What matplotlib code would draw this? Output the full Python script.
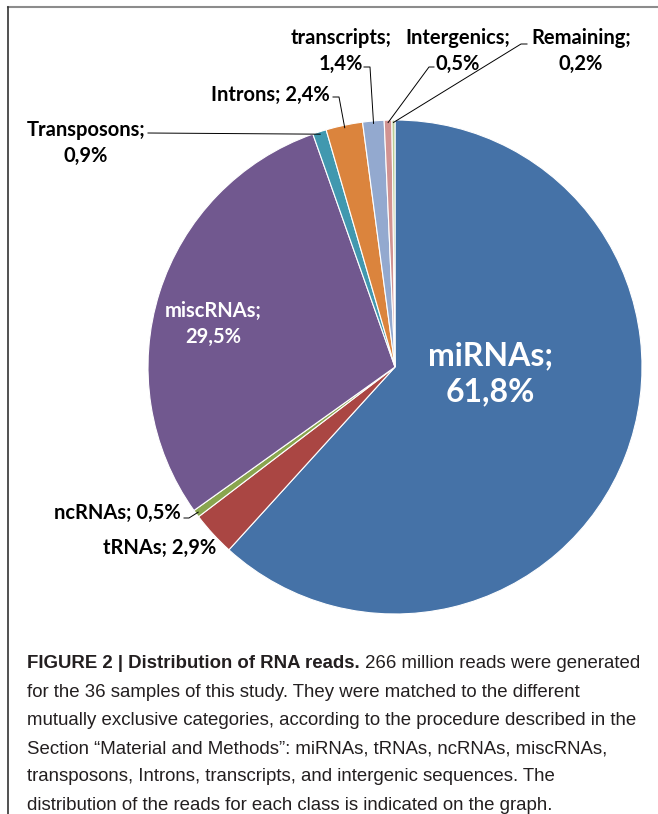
import matplotlib
matplotlib.use("Agg")
import matplotlib.pyplot as plt
from matplotlib.lines import Line2D
import numpy as np

# dados
categorias = ["miRNAs", "tRNAs", "ncRNAs", "miscRNAs", "Transposons",
              "Introns", "transcripts", "Intergenics", "Remaining"]
valores = [61.8, 2.9, 0.5, 29.5, 0.9, 2.4, 1.4, 0.5, 0.2]
rotulos = ["61,8%", "2,9%", "0,5%", "29,5%", "0,9%", "2,4%", "1,4%", "0,5%", "0,2%"]
cores = ["#4572A7", "#AA4643", "#89A54E", "#71588F", "#4198AF",
         "#DB843D", "#93A9CF", "#D19392", "#B9CD96"]

legenda = [
    ("FIGURE 2 | Distribution of RNA reads.",
     " 266 million reads were generated"),
    ("", "for the 36 samples of this study. They were matched to the different"),
    ("", "mutually exclusive categories, according to the procedure described in the"),
    ("", "Section \u201cMaterial and Methods\u201d: miRNAs, tRNAs, ncRNAs, miscRNAs,"),
    ("", "transposons, Introns, transcripts, and intergenic sequences. The"),
    ("", "distribution of the reads for each class is indicated on the graph."),
]

W, H = 658, 814
CX, CY, R = 395, 367, 247

fig = plt.figure(figsize=(W / 100, H / 100), dpi=100)
ax = fig.add_axes([(CX - R) / W, (H - CY - R) / H, 2 * R / W, 2 * R / H])
wedges, _ = ax.pie(valores, colors=cores, startangle=90, counterclock=False,
                   wedgeprops=dict(edgecolor="white", linewidth=0.8))
ax.set_xlim(-1, 1)
ax.set_ylim(-1, 1)
ax.set_aspect("equal")
ax.axis("off")


def px(x, y):
    # pixel da figura -> coordenadas do eixo da pizza
    return (x - CX) / R, (CY - y) / R


def ponto_fatia(i, r=0.99):
    w = wedges[i]
    ang = np.deg2rad((w.theta1 + w.theta2) / 2)
    return r * np.cos(ang), r * np.sin(ang)


fonte = "Lato"
kw = dict(family=fonte, weight="bold", ha="center", va="center", clip_on=False)
tam = 14.5

# rotulos internos
ax.text(*px(490, 374), f"{categorias[0]};\n{rotulos[0]}", color="white",
        fontsize=23, linespacing=1.3, **kw)
ax.text(*px(213, 324), f"{categorias[3]};\n{rotulos[3]}", color="white",
        fontsize=14.5, linespacing=1.35, **kw)

# rotulos externos
ax.text(*px(160, 548), f"{categorias[1]}; {rotulos[1]}", fontsize=tam, **kw)
ax.text(*px(117, 513), f"{categorias[2]}; {rotulos[2]}", fontsize=tam, **kw)
ax.text(*px(86, 143), f"{categorias[4]};\n{rotulos[4]}", fontsize=tam, linespacing=1.35, **kw)
ax.text(*px(270, 95), f"{categorias[5]}; {rotulos[5]}", fontsize=tam, **kw)
ax.text(*px(341, 51), f"{categorias[6]};\n{rotulos[6]}", fontsize=tam, linespacing=1.35, **kw)
ax.text(*px(458, 51), f"{categorias[7]};\n{rotulos[7]}", fontsize=tam, linespacing=1.35, **kw)
ax.text(*px(581, 51), f"{categorias[8]};\n{rotulos[8]}", fontsize=tam, linespacing=1.35, **kw)

# linhas de chamada
chamadas = [
    (2, [(184, 518), (189, 518)]),
    (4, [(148, 133)]),
    (5, [(333, 97), (339, 97)]),
    (6, [(364, 67), (370, 67)]),
    (7, [(434, 67), (429, 67)]),
    (8, [(527, 44), (521, 44)]),
]
for i, pts in chamadas:
    xs = [px(*p)[0] for p in pts]
    ys = [px(*p)[1] for p in pts]
    fx, fy = ponto_fatia(i)
    xs.append(fx)
    ys.append(fy)
    ax.plot(xs, ys, color="black", lw=0.7, clip_on=False)

# moldura
fig.add_artist(Line2D([8 / W, 1], [1 - 7 / H, 1 - 7 / H], color="#8c8c8c", lw=1.5))
fig.add_artist(Line2D([8 / W, 8 / W], [0, 1 - 7 / H], color="#333333", lw=1.2))

# legenda da figura
fam_leg = ["Liberation Sans"]
renderer = fig.canvas.get_renderer()
y0 = 664
for k, (negrito, normal) in enumerate(legenda):
    y = 1 - (y0 + k * 28.2) / H
    x = 27 / W
    if negrito:
        t = fig.text(x, y, negrito, family=fam_leg, weight="bold", fontsize=13.4,
                     color="#231f20", va="center")
        bb = t.get_window_extent(renderer)
        x = bb.x1 / W
    fig.text(x, y, normal, family=fam_leg, fontsize=13.4, color="#231f20", va="center")

fig.savefig("out.png", dpi=100)
